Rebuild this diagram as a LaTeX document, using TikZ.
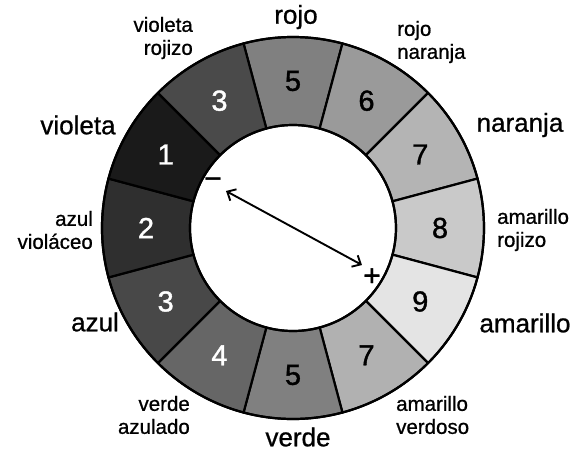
\documentclass[tikz,border=0pt]{standalone}
\usepackage{fontspec}
\setmainfont{Liberation Sans}
\newfontfamily\medfont{Liberation Sans}[FakeBold=0.8]
\newfontfamily\numfont{Liberation Sans}[FakeBold=1.2]
\usetikzlibrary{arrows.meta}
\definecolor{g1}{HTML}{1A1A1A}
\definecolor{g2}{HTML}{2F2F2F}
\definecolor{g3}{HTML}{4A4A4A}
\definecolor{g3b}{HTML}{484848}
\definecolor{g4}{HTML}{666666}
\definecolor{g5}{HTML}{808080}
\definecolor{g6}{HTML}{9A9A9A}
\definecolor{g7}{HTML}{B4B4B4}
\definecolor{g7b}{HTML}{B1B1B1}
\definecolor{g8}{HTML}{C9C9C9}
\definecolor{g9}{HTML}{E4E4E4}
\tikzset{
  seg/.style={draw=black, line width=2.2pt, line join=round},
  numw/.style={text=white, font=\numfont\fontsize{29}{29}\selectfont},
  numb/.style={text=black, font=\numfont\fontsize{29}{29}\selectfont},
  biglab/.style={font=\medfont\fontsize{26}{28}\selectfont, inner sep=0pt},
  smalllab/.style={font=\medfont\fontsize{20.5}{23}\selectfont, inner sep=0pt},
  sign/.style={font=\numfont\fontsize{30}{30}\selectfont, inner sep=0pt},
  dblarrow/.style={line width=1.9pt, {Straight Barb[length=7pt,width=13pt,line width=1.9pt]}-{Straight Barb[length=7pt,width=13pt,line width=1.9pt]}}
}
\begin{document}
\begin{tikzpicture}[x=1pt,y=1pt]
\useasboundingbox (-293,-223) rectangle (278,228);
\def\Ro{191}
\def\Ri{103}
\foreach \a/\c in {90/g5, 60/g6, 30/g7, 0/g8, -30/g9, -60/g7b, -90/g5, -120/g4, -150/g3b, 180/g2, 150/g1, 120/g3}{
  \filldraw[seg, fill=\c] (\a+15:\Ro) arc[start angle=\a+15, end angle=\a-15, radius=\Ro] -- (\a-15:\Ri) arc[start angle=\a-15, end angle=\a+15, radius=\Ri] -- cycle;
}
\draw[line width=2.2pt] (0,0) circle[radius=\Ro];
\draw[line width=2.2pt] (0,0) circle[radius=\Ri];
% numbers
\node[numb] (n5a) at (90:147) {5};
\node[numb] (n6) at (60:147) {6};
\node[numb] (n7a) at (30:147) {7};
\node[numb] (n8) at (0:147) {8};
\node[numb] (n9) at (-30:147) {9};
\node[numb] (n7b) at (-60:147) {7};
\node[numb] (n5b) at (-90:147) {5};
\node[numw] (n4) at (-120:147) {4};
\node[numw] (n3b) at (-150:147) {3};
\node[numw] (n2) at (180:147) {2};
\node[numw] (n1) at (150:147) {1};
\node[numw] (n3a) at (120:147) {3};
% labels
\node[biglab] (rojo) at (3,211) {rojo};
\node[smalllab, anchor=west, align=left] (rojonar) at (104,186) {rojo\\naranja};
\node[biglab] (naranja) at (227,103) {naranja};
\node[smalllab, anchor=west, align=left] (amaroj) at (204,-2) {amarillo\\rojizo};
\node[biglab] (amarillo) at (232,-95) {amarillo};
\node[smalllab, anchor=west, align=left] (amaver) at (103,-187) {amarillo\\verdoso};
\node[biglab] (verde) at (5,-209) {verde};
\node[smalllab, anchor=east, align=right] (verdeaz) at (-103,-187) {verde\\azulado};
\node[biglab] (azul) at (-198,-94) {azul};
\node[smalllab, anchor=east, align=right] (azulvio) at (-200,-2) {azul\\violáceo};
\node[biglab] (violeta) at (-215,103) {violeta};
\node[smalllab, anchor=east, align=right] (violroj) at (-100,190) {violeta\\rojizo};
% signs and arrow
\node[sign] (minus) at (-80,45) {\textminus};
\node[sign] (plus) at (79,-49) {+};
\coordinate (tipm) at (-67,37);
\coordinate (tipp) at (69,-37);
\draw[dblarrow] (tipm) -- (tipp);
\end{tikzpicture}
\end{document}
